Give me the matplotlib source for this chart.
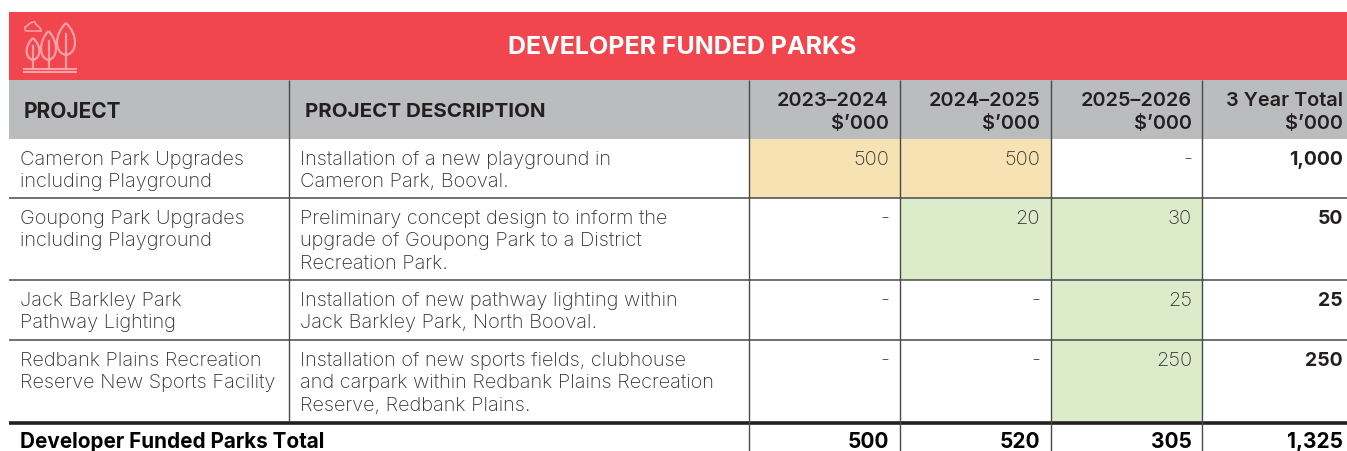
import matplotlib
matplotlib.use("Agg")
import matplotlib.pyplot as plt
from matplotlib.patches import Rectangle, PathPatch
from matplotlib.path import Path

plt.rcParams['font.family'] = ['Inter', 'DejaVu Sans']

title = "DEVELOPER FUNDED PARKS"
headers = ["PROJECT", "PROJECT DESCRIPTION"]
year_headers = ["2023–2024\n$’000", "2024–2025\n$’000", "2025–2026\n$’000", "3 Year Total\n$’000"]

projects = [
    "Cameron Park Upgrades\nincluding Playground",
    "Goupong Park Upgrades\nincluding Playground",
    "Jack Barkley Park\nPathway Lighting",
    "Redbank Plains Recreation\nReserve New Sports Facility",
]
descriptions = [
    "Installation of a new playground in\nCameron Park, Booval.",
    "Preliminary concept design to inform the\nupgrade of Goupong Park to a District\nRecreation Park.",
    "Installation of new pathway lighting within\nJack Barkley Park, North Booval.",
    "Installation of new sports fields, clubhouse\nand carpark within Redbank Plains Recreation\nReserve, Redbank Plains.",
]
y2023 = ["500", "-", "-", "-"]
y2024 = ["500", "20", "-", "-"]
y2025 = ["-", "30", "25", "250"]
totals = ["1,000", "50", "25", "250"]

total_label = "Developer Funded Parks Total"
total_row = ["500", "520", "305", "1,325"]

RED = "#f2464f"
GREY = "#bbbcbe"
AMBER = "#f7e2b4"
GREEN = "#dcebc9"
INK = "#231f20"
BODY = "#333333"
RULE = "#4a4a4a"
ICON = "#fba0a5"

row_y = [139, 198, 280, 340, 421]
col_x = [288.5, 749, 900, 1051, 1202]
left, right = 9, 1347

fig = plt.figure(figsize=(13.47, 4.52), dpi=100)
ax = fig.add_axes([0, 0, 1, 1])
ax.set_xlim(0, 1347)
ax.set_ylim(451, -1)
ax.axis("off")

# banner and header
ax.add_patch(Rectangle((left, 12), right - left, 68, fc=RED, ec="none"))
ax.add_patch(Rectangle((left, 80), right - left, 59, fc=GREY, ec="none"))
ax.text(682, 46.5, title, color="white", fontsize=18, fontweight="bold", ha="center", va="center")
ax.text(24, 111, headers[0], color=INK, fontsize=15, fontweight="bold", va="center")
ax.text(305, 111, headers[1], color=INK, fontsize=14.8, fontweight="bold", va="center")

# tree icon
def leaf(cx, top, bottom, w):
    verts = [(cx, top), (cx + w, top + (bottom - top) * 0.35), (cx + w, bottom - 2), (cx, bottom),
             (cx - w, bottom - 2), (cx - w, top + (bottom - top) * 0.35), (cx, top)]
    codes = [Path.MOVETO, Path.CURVE4, Path.CURVE4, Path.CURVE4, Path.CURVE4, Path.CURVE4, Path.CURVE4]
    ax.add_patch(PathPatch(Path(verts, codes), fc="none", ec=ICON, lw=1.6))

for cx, top, bottom, w in [(33, 38, 60, 8.5), (48.5, 31, 60, 10), (66, 23, 55, 12)]:
    leaf(cx, top, bottom, w)
    ax.plot([cx, cx], [top + (bottom - top) * 0.35, 69], color=ICON, lw=1.6)
ax.plot([24, 76], [68.5, 68.5], color=ICON, lw=1.5)
ax.plot([24, 76], [71.5, 71.5], color=ICON, lw=1.5)
cloud = Path([(27, 31), (24, 31), (25, 27), (28, 27), (28, 22), (35, 22), (35, 26), (41, 26), (41, 31), (38, 31), (27, 31)],
             [Path.MOVETO, Path.CURVE3, Path.CURVE3, Path.CURVE4, Path.CURVE4, Path.CURVE4, Path.CURVE4, Path.CURVE4, Path.CURVE4,
              Path.LINETO, Path.LINETO])
ax.add_patch(PathPatch(cloud, fc="none", ec=ICON, lw=1.2))

# cell fills
fills = {(0, 0): AMBER, (0, 1): AMBER, (1, 1): GREEN, (1, 2): GREEN, (2, 2): GREEN, (3, 2): GREEN}
for (r, c), colour in fills.items():
    ax.add_patch(Rectangle((col_x[c + 1], row_y[r]), col_x[c + 2] - col_x[c + 1],
                           row_y[r + 1] - row_y[r], fc=colour, ec="none"))

# rows
value_right = [889, 1040, 1192, 1343]
for i in range(4):
    top = row_y[i]
    for tx, s in [(20, projects[i]), (300, descriptions[i])]:
        for n, line in enumerate(s.split("\n")):
            ax.text(tx, top + 20 + n * 22.5, line, color=BODY, fontsize=14.4, fontweight="light", va="center")
    for c, col in enumerate([y2023, y2024, y2025]):
        ax.text(value_right[c], top + 20, col[i], color=BODY, fontsize=14.5, fontweight="light", ha="right", va="center")
    ax.text(value_right[3], top + 20, totals[i], color=INK, fontsize=14, fontweight="bold", ha="right", va="center")

for c, s in enumerate(year_headers):
    for n, line in enumerate(s.split("\n")):
        ax.text(value_right[c], 100 + n * 23, line, color=INK, fontsize=14.3, fontweight="semibold",
                ha="right", va="center")

# total row
ax.text(20, 441.5, total_label, color="black", fontsize=14.9, fontweight="bold", va="center")
for c, s in enumerate(total_row):
    ax.text(value_right[c], 441.5, s, color="black", fontsize=15, fontweight="bold", ha="right", va="center")

# rules
for y in row_y[1:4]:
    ax.plot([left, right], [y, y], color=RULE, lw=1.1, solid_capstyle="butt")
ax.plot([left, right], [422.5, 422.5], color=INK, lw=2.6, solid_capstyle="butt")
ax.plot([col_x[0], col_x[0]], [80, 421], color=RULE, lw=1.0, solid_capstyle="butt")
for x in col_x[1:]:
    ax.plot([x, x], [80, 452], color=RULE, lw=1.0, solid_capstyle="butt")

fig.savefig("out.png", dpi=100)
